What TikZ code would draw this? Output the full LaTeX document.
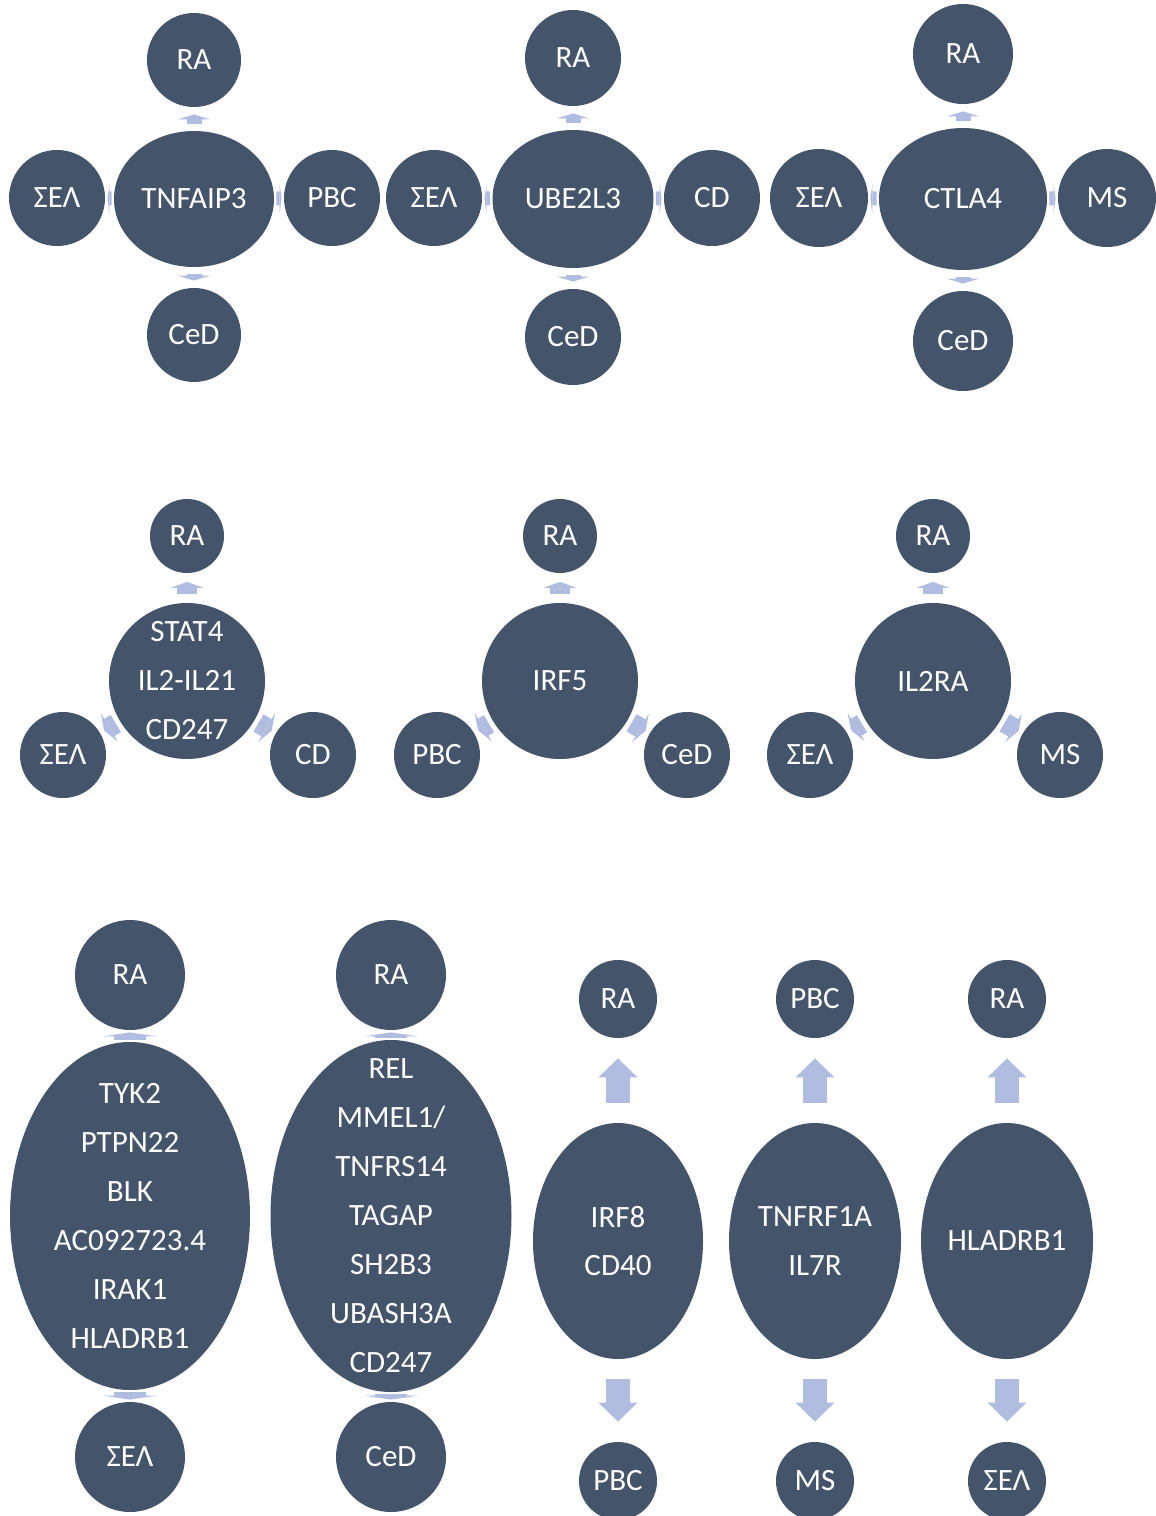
\documentclass[tikz,border=0pt]{standalone}
\usepackage{fontspec}
\setmainfont{Carlito}
\usepackage{tikz}
\usetikzlibrary{arrows.meta,shapes.geometric}
\definecolor{slate}{RGB}{68,84,106}
\definecolor{paleblue}{RGB}{176,188,224}

\begin{document}
\begin{tikzpicture}[
  x=0.5pt, y=-0.5pt,
  every node/.style={align=center, text=white, inner sep=0pt,
    font=\fontsize{15.5}{24.5}\selectfont},
  blob/.style={circle, fill=slate, minimum size=#1},
  oval/.style args={#1/#2}{ellipse, fill=slate, minimum width=#1, minimum height=#2},
  tight/.style={inner sep=-25pt},
  ar/.style args={#1/#2/#3/#4}{draw=paleblue, line width=#1,
    -{Triangle[width=#2,length=#3,line width=0pt]}, shorten <=#4, shorten >=#4},
  arA/.style={ar=7.5pt/16pt/2.5pt/3.5pt},
  arB/.style={ar=7pt/15pt/1pt/1pt},
  arC/.style={ar=10pt/16.5pt/3pt/2.25pt},
  arD/.style={ar=16pt/27pt/2pt/1pt},
  arE/.style={ar=12pt/19.5pt/9.5pt/10pt}
]
\useasboundingbox (0,0) rectangle (1156,1516);

% first row
\node[oval=80pt/68pt]   (tnf)  at (194,199) {TNFAIP3};
\node[blob=47pt]        (ra1)  at (194,60)  {RA};
\node[blob=47pt]        (ced1) at (194,335) {CeD};
\node[blob=48pt]        (sel1) at (57,198)  {ΣΕΛ};
\node[blob=48pt]        (pbc1) at (332,198) {PBC};
\node[oval=80.5pt/69pt] (ube)  at (573,199) {UBE2L3};
\node[blob=48pt]        (ra2)  at (573,58)  {RA};
\node[blob=48pt]        (ced2) at (573,337) {CeD};
\node[blob=48pt]        (sel2) at (434,198) {ΣΕΛ};
\node[blob=48pt]        (cd2)  at (712,198) {CD};
\node[oval=84pt/71pt]   (ctla) at (963,199) {CTLA4};
\node[blob=50pt]        (ra3)  at (963,54)  {RA};
\node[blob=50pt]        (ced3) at (963,341) {CeD};
\node[blob=49pt]        (sel3) at (819,198) {ΣΕΛ};
\node[blob=49pt]        (ms3)  at (1107,198) {MS};
\foreach \c/\o in {tnf/ra1, tnf/ced1, ube/ra2, ube/ced2, ctla/ra3, ctla/ced3}
  \draw[arA] (\c) -- (\o);
\foreach \c/\o in {tnf/sel1, tnf/pbc1, ube/sel2, ube/cd2, ctla/sel3, ctla/ms3}
  \draw[arB] (\c) -- (\o);

% second row
\node[blob=78pt, inner sep=-10pt] (stat) at (187,681) {STAT4\\IL2-IL21\\CD247};
\node[blob=37pt]        (ra4)  at (187,536) {RA};
\node[blob=43pt]        (sel4) at (63,755)  {ΣΕΛ};
\node[blob=43pt]        (cd4)  at (313,755) {CD};
\node[blob=78pt]        (irf5) at (560,681) {IRF5};
\node[blob=37pt]        (ra5)  at (560,536) {RA};
\node[blob=43pt]        (pbc5) at (437,755) {PBC};
\node[blob=43pt]        (ced5) at (687,755) {CeD};
\node[blob=78pt]        (il2ra) at (933,681) {IL2RA};
\node[blob=37pt]        (ra6)  at (933,536) {RA};
\node[blob=43pt]        (sel6) at (810,755) {ΣΕΛ};
\node[blob=43pt]        (ms6)  at (1060,755) {MS};
\foreach \c/\o in {stat/ra4, irf5/ra5, il2ra/ra6}
  \draw[arC, shorten <=4.25pt, shorten >=4.25pt] (\c) -- (\o);
\foreach \c/\o in {stat/sel4, stat/cd4, irf5/pbc5, irf5/ced5, il2ra/sel6, il2ra/ms6}
  \draw[arC] (\c) -- (\o);

% third row
\node[oval=120pt/174pt, tight] (tyk) at (130,1216)
  {TYK2\\PTPN22\\BLK\\AC092723.4\\IRAK1\\HLADRB1};
\node[blob=55pt]        (ra7)  at (130,975)  {RA};
\node[blob=55pt]        (sel7) at (130,1457) {ΣΕΛ};
\node[oval=120.5pt/176pt, tight] (rel) at (391,1216)
  {REL\\MMEL1/\\TNFRS14\\TAGAP\\SH2B3\\UBASH3A\\CD247};
\node[blob=55pt]        (ra8)  at (391,975)  {RA};
\node[blob=55pt]        (ced8) at (391,1457) {CeD};
\node[oval=85pt/118pt]  (irf8) at (618,1241) {IRF8\\CD40};
\node[blob=39pt]        (ra9)  at (618,999)  {RA};
\node[blob=39pt]        (pbc9) at (618,1481) {PBC};
\node[oval=86pt/118pt]  (tnfr) at (815,1241) {TNFRF1A\\IL7R};
\node[blob=39pt]        (pbc10) at (815,999) {PBC};
\node[blob=39pt]        (ms10) at (815,1481) {MS};
\node[oval=86pt/118pt]  (hla)  at (1007,1241) {HLADRB1};
\node[blob=39pt]        (ra11) at (1007,999) {RA};
\node[blob=39pt]        (sel11) at (1007,1481) {ΣΕΛ};
\foreach \c/\o in {tyk/ra7, tyk/sel7, rel/ra8, rel/ced8}
  \draw[arD] (\c) -- (\o);
\foreach \c/\o in {irf8/ra9, irf8/pbc9, tnfr/pbc10, tnfr/ms10, hla/ra11, hla/sel11}
  \draw[arE] (\c) -- (\o);
\end{tikzpicture}
\end{document}
